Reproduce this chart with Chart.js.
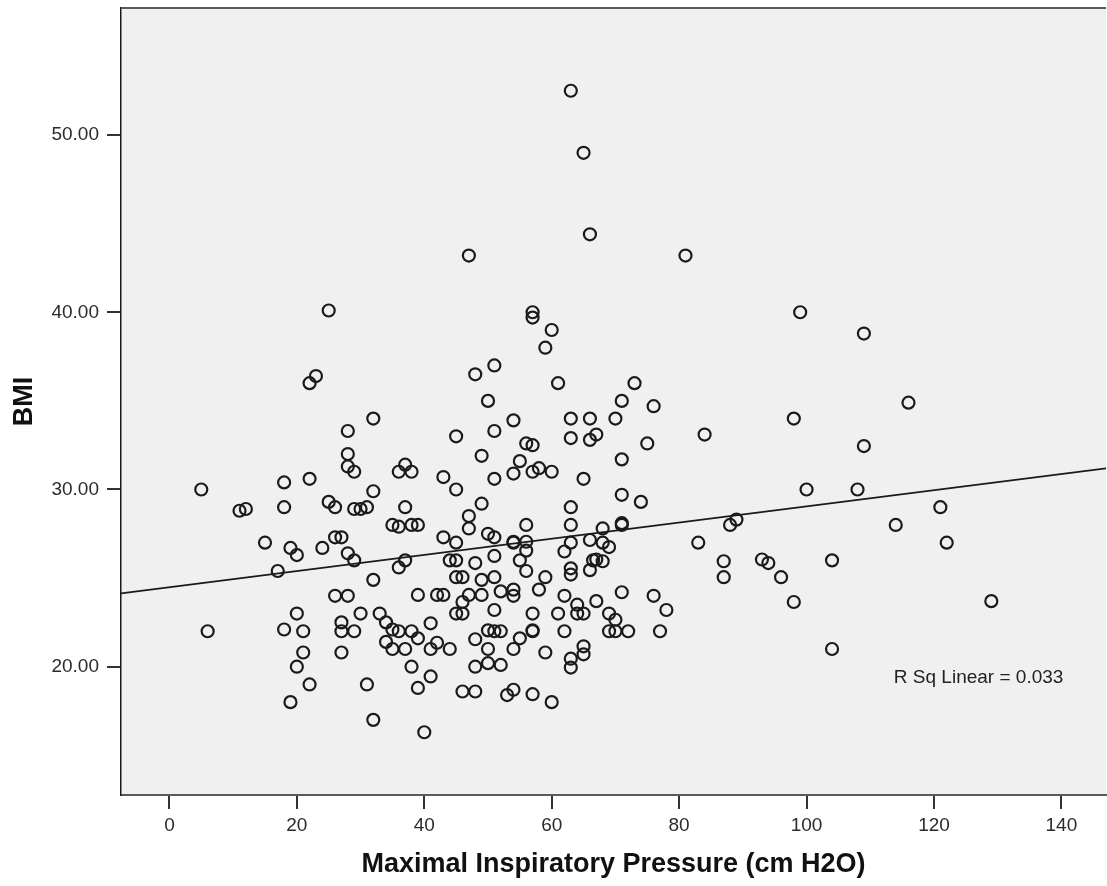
<!DOCTYPE html>
<html>
<head>
<meta charset="utf-8">
<script src="https://cdn.jsdelivr.net/npm/chart.js@4.4.1/dist/chart.umd.min.js"></script>
<style>
  html, body { margin: 0; padding: 0; background: #ffffff; }
  #wrap { width: 1107px; height: 886px; }
</style>
</head>
<body>
<div id="wrap"><canvas id="c" width="1107" height="886"></canvas></div>
<script>
// Maximal Inspiratory Pressure (cm H2O) values
const mipValues = [
  63,65,66,47,81,25,22,23,32,28,
  28,28,29,36,22,18,5,32,11,12,
  18,25,26,29,30,31,37,15,19,20,
  24,26,27,28,29,35,36,17,32,36,
  26,28,20,18,21,6,27,27,29,30,
  33,34,35,34,35,21,27,20,22,31,
  19,32,36,
  57,57,60,59,51,48,61,73,50,71,
  76,54,63,66,70,45,51,63,66,67,
  56,57,75,84,49,55,57,58,60,54,
  51,45,43,65,71,37,38,49,63,71,
  74,38,39,47,47,56,63,68,71,71,
  88,89,
  43,45,50,51,54,54,56,56,63,66,
  68,69,83,62,37,44,45,51,48,55,
  56,67,68,66.5,66,63,63,87,93,94,
  87,96,45,46,49,51,59,
  39,42,43,47,46,45,46,49,52,54,
  54,58,51,57,61,62,64,64,65,67,
  69,70,71,76,78,77,69,70,72,62,
  57,57,55,54,59,50,51,52,50,50,
  48,48,52,41,38,39,42,41,44,37,
  38,41,39,46,48,53,54,57,60,40,
  63,63,65,65,
  99,109,116,98,109,100,108,121,114,122,
  104,98,104,129
];
// BMI values, same order
const bmiValues = [
  52.5,49.0,44.4,43.2,43.2,40.1,36.0,36.4,34.0,33.3,
  32.0,31.3,31.0,31.0,30.6,30.4,30.0,29.9,28.8,28.9,
  29.0,29.3,29.0,28.9,28.9,29.0,29.0,27.0,26.7,26.3,
  26.7,27.3,27.3,26.4,26.0,28.0,27.9,25.4,24.9,25.6,
  24.0,24.0,23.0,22.1,22.0,22.0,22.5,22.0,22.0,23.0,
  23.0,22.5,22.1,21.4,21.0,20.8,20.8,20.0,19.0,19.0,
  18.0,17.0,22.0,
  40.0,39.7,39.0,38.0,37.0,36.5,36.0,36.0,35.0,35.0,
  34.7,33.9,34.0,34.0,34.0,33.0,33.3,32.9,32.8,33.1,
  32.6,32.5,32.6,33.1,31.9,31.6,31.0,31.2,31.0,30.9,
  30.6,30.0,30.7,30.6,31.7,31.4,31.0,29.2,29.0,29.7,
  29.3,28.0,28.0,28.5,27.8,28.0,28.0,27.8,28.0,28.1,
  28.0,28.3,
  27.3,27.0,27.5,27.3,27.0,27.05,27.05,26.55,27.0,27.15,
  27.0,26.75,27.0,26.5,26.0,26.0,26.0,26.25,25.85,26.0,
  25.4,26.05,25.95,26.0,25.45,25.55,25.2,25.95,26.05,25.85,
  25.05,25.05,25.05,25.05,24.9,25.05,25.05,
  24.05,24.05,24.05,24.05,23.65,23.0,23.0,24.05,24.25,24.35,
  24.0,24.35,23.2,23.0,23.0,24.0,23.5,23.0,23.0,23.7,
  23.0,22.65,24.2,24.0,23.2,22.0,22.0,22.0,22.0,22.0,
  22.0,22.05,21.6,21.0,20.8,22.05,22.0,22.0,21.0,20.2,
  21.55,20.0,20.1,22.45,22.0,21.6,21.35,21.0,21.0,21.0,
  20.0,19.45,18.8,18.6,18.6,18.4,18.7,18.45,18.0,16.3,
  20.45,19.95,21.15,20.7,
  40.0,38.8,34.9,34.0,32.45,30.0,30.0,29.0,28.0,27.0,
  26.0,23.65,21.0,23.7
];
// Linear fit line end points
const fitX = [-7.6, 147.0];
const fitY = [24.14, 31.19];
// Tick values
const xTickValues = [0, 20, 40, 60, 80, 100, 120, 140];
const yTickValues = [20, 30, 40, 50];
// Axis ranges
const xRange = [-7.6, 147.0];
const yRange = [12.76, 57.17];
const annotationText = 'R Sq Linear = 0.033';
const annotationPos = [113.7, 19.36];

const FONT = "Arial, 'Liberation Sans', sans-serif";

const scatterData = mipValues.map((x, i) => ({ x: x, y: bmiValues[i] }));
const fitData = fitX.map((x, i) => ({ x: x, y: fitY[i] }));

const bgPlugin = {
  id: 'plotBg',
  beforeDraw(chart) {
    const { ctx, chartArea: a } = chart;
    ctx.save();
    ctx.fillStyle = '#f0f0f0';
    ctx.fillRect(a.left, a.top, a.right - a.left, a.bottom - a.top);
    ctx.restore();
  },
  afterDraw(chart) {
    const { ctx, chartArea: a } = chart;
    ctx.save();
    ctx.strokeStyle = '#5a5a5a';
    ctx.lineWidth = 2;
    ctx.beginPath();
    ctx.moveTo(a.left, a.top);
    ctx.lineTo(a.right, a.top);
    ctx.stroke();
    ctx.restore();
  }
};

const annotationPlugin = {
  id: 'rsq',
  afterDatasetsDraw(chart) {
    const { ctx, scales } = chart;
    ctx.save();
    ctx.font = '19px ' + FONT;
    ctx.fillStyle = '#222222';
    ctx.textAlign = 'left';
    ctx.textBaseline = 'middle';
    ctx.fillText(annotationText, scales.x.getPixelForValue(annotationPos[0]), scales.y.getPixelForValue(annotationPos[1]));
    ctx.restore();
  }
};

new Chart(document.getElementById('c'), {
  type: 'scatter',
  data: {
    datasets: [
      {
        label: 'BMI',
        data: scatterData,
        pointStyle: 'circle',
        pointRadius: 6,
        pointHoverRadius: 6,
        pointBorderWidth: 2.2,
        pointBackgroundColor: 'rgba(0,0,0,0)',
        pointBorderColor: '#1a1a1a',
        showLine: false
      },
      {
        label: 'Fit',
        data: fitData,
        showLine: true,
        borderColor: '#1a1a1a',
        borderWidth: 1.8,
        pointRadius: 0,
        fill: false
      }
    ]
  },
  options: {
    responsive: false,
    animation: false,
    devicePixelRatio: 1,
    layout: { autoPadding: false, padding: { top: 8, right: 1, left: 0, bottom: 5 } },
    plugins: {
      legend: { display: false },
      tooltip: { enabled: false }
    },
    scales: {
      x: {
        type: 'linear',
        min: xRange[0],
        max: xRange[1],
        afterBuildTicks(scale) { scale.ticks = xTickValues.map(v => ({ value: v })); },
        afterFit(scale) { scale.height = 86; scale.paddingLeft = 0; scale.paddingRight = 0; },
        ticks: {
          color: '#2b2b2b',
          font: { family: FONT, size: 19 },
          padding: 5,
          maxRotation: 0,
          autoSkip: false,
          callback: (v) => String(v)
        },
        grid: { drawOnChartArea: false, drawTicks: true, tickLength: 14, color: '#333333', lineWidth: 2 },
        border: { display: true, color: '#5a5a5a', width: 2 },
        title: {
          display: true,
          text: 'Maximal Inspiratory Pressure (cm H2O)',
          color: '#111111',
          font: { family: FONT, size: 27, weight: 'bold' },
          padding: { top: 0, bottom: 0 }
        }
      },
      y: {
        type: 'linear',
        min: yRange[0],
        max: yRange[1],
        afterBuildTicks(scale) { scale.ticks = yTickValues.map(v => ({ value: v })); },
        afterFit(scale) { scale.width = 121; scale.paddingTop = 0; scale.paddingBottom = 0; },
        ticks: {
          color: '#2b2b2b',
          font: { family: FONT, size: 19 },
          padding: 8,
          autoSkip: false,
          callback: (v) => Number(v).toFixed(2)
        },
        grid: { drawOnChartArea: false, drawTicks: true, tickLength: 14, color: '#333333', lineWidth: 2 },
        border: { display: true, color: '#1a1a1a', width: 1.5 },
        title: {
          display: true,
          text: 'BMI',
          color: '#111111',
          font: { family: FONT, size: 27, weight: 'bold' },
          padding: { top: 8, bottom: 0 }
        }
      }
    }
  },
  plugins: [bgPlugin, annotationPlugin]
});
</script>
</body>
</html>
